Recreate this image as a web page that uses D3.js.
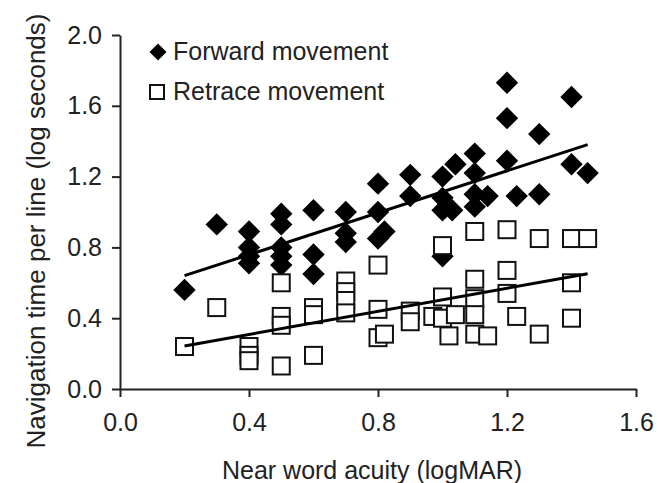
<!DOCTYPE html>
<html>
<head>
<meta charset="utf-8">
<script src="https://cdn.jsdelivr.net/npm/d3@7"></script>
<style>
  body { margin: 0; background: #fff; }
  svg { display: block; font-family: "Liberation Sans", Arial, sans-serif; }
  .axis path, .axis line { stroke: #222; stroke-width: 2; }
  .axis text { fill: #222; font-size: 25px; font-family: "Liberation Sans", Arial, sans-serif; }
</style>
</head>
<body>
<script>
const width = 658;
const height = 483;
const margin = {top: 35, right: 22, bottom: 94, left: 120};

// tick labels
const xTicks = [0, 0.4, 0.8, 1.2, 1.6];
const yTicks = [0, 0.4, 0.8, 1.2, 1.6, 2.0];

// forward movement (filled diamonds)
const forwardAcuity = [0.2, 0.3, 0.4, 0.4, 0.4, 0.4, 0.5, 0.5, 0.5, 0.5, 0.5, 0.6, 0.6, 0.6,
  0.7, 0.7, 0.7, 0.8, 0.8, 0.8, 0.82, 0.9, 0.9, 1.0, 1.0, 1.0, 1.0, 1.03, 1.04,
  1.1, 1.1, 1.1, 1.1, 1.14, 1.2, 1.2, 1.2, 1.23, 1.3, 1.3, 1.4, 1.4, 1.45];
const forwardTime = [0.56, 0.93, 0.89, 0.80, 0.75, 0.71, 0.99, 0.93, 0.80, 0.75, 0.70, 1.01, 0.76, 0.65,
  1.00, 0.88, 0.83, 1.16, 1.00, 0.85, 0.89, 1.21, 1.09, 1.20, 1.08, 1.01, 0.75, 1.01, 1.27,
  1.33, 1.22, 1.10, 1.03, 1.09, 1.73, 1.53, 1.29, 1.09, 1.44, 1.10, 1.65, 1.27, 1.22];

// retrace movement (open squares)
const retraceAcuity = [0.2, 0.3, 0.4, 0.4, 0.4, 0.5, 0.5, 0.5, 0.5, 0.6, 0.6, 0.6,
  0.7, 0.7, 0.7, 0.7, 0.8, 0.8, 0.8, 0.82, 0.9, 0.9, 0.97, 1.0, 1.0, 1.0, 1.02, 1.04,
  1.1, 1.1, 1.1, 1.1, 1.1, 1.14, 1.2, 1.2, 1.2, 1.23, 1.3, 1.3, 1.4, 1.4, 1.4, 1.45];
const retraceTime = [0.24, 0.46, 0.24, 0.19, 0.16, 0.60, 0.41, 0.36, 0.13, 0.46, 0.42, 0.19,
  0.61, 0.55, 0.50, 0.43, 0.70, 0.45, 0.29, 0.31, 0.44, 0.38, 0.41, 0.81, 0.52, 0.40, 0.30, 0.42,
  0.89, 0.62, 0.51, 0.42, 0.31, 0.30, 0.90, 0.67, 0.54, 0.41, 0.85, 0.31, 0.85, 0.60, 0.40, 0.85];

// linear fits [intercept, slope], drawn over the data range
const fitRange = [0.2, 1.45];
const forwardFit = [0.522, 0.592];
const retraceFit = [0.178, 0.326];

const forward = forwardAcuity.map((x, i) => ({x: x, y: forwardTime[i]}));
const retrace = retraceAcuity.map((x, i) => ({x: x, y: retraceTime[i]}));

const svg = d3.select("body")
    .append("svg")
    .attr("width", width)
    .attr("height", height);

const x = d3.scaleLinear().domain([0, 1.6]).range([margin.left, width - margin.right]);
const y = d3.scaleLinear().domain([0, 2.0]).range([height - margin.bottom, margin.top]);

// axes
svg.append("g")
    .attr("class", "axis")
    .attr("transform", `translate(0,${y(0)})`)
    .call(d3.axisBottom(x).tickValues(xTicks).tickFormat(d3.format(".1f")).tickSize(8).tickSizeOuter(0).tickPadding(16));

svg.append("g")
    .attr("class", "axis")
    .attr("transform", `translate(${x(0)},0)`)
    .call(d3.axisLeft(y).tickValues(yTicks).tickFormat(d3.format(".1f")).tickSize(8).tickSizeOuter(0).tickPadding(10));

// axis titles
svg.append("text")
    .attr("x", 372)
    .attr("y", 479)
    .attr("text-anchor", "middle")
    .attr("fill", "#222")
    .style("font-size", "25px")
    .text("Near word acuity (logMAR)");

svg.append("text")
    .attr("transform", "translate(45,231) rotate(-90)")
    .attr("text-anchor", "middle")
    .attr("fill", "#222")
    .style("font-size", "26px")
    .text("Navigation time per line (log seconds)");

// markers
const diamond = d3.symbol().type(d3.symbolSquare).size(250);
const legendDiamond = d3.symbol().type(d3.symbolSquare).size(144);
const sq = 17;

svg.append("g")
    .selectAll("path")
    .data(forward)
    .enter()
    .append("path")
    .attr("d", diamond)
    .attr("transform", d => `translate(${x(d.x)},${y(d.y)}) rotate(45)`)
    .attr("fill", "#000");

svg.append("g")
    .selectAll("rect")
    .data(retrace)
    .enter()
    .append("rect")
    .attr("x", d => x(d.x) - sq / 2)
    .attr("y", d => y(d.y) - sq / 2)
    .attr("width", sq)
    .attr("height", sq)
    .attr("fill", "#fff")
    .attr("stroke", "#111")
    .attr("stroke-width", 2);

// fit lines
const fitLine = d3.line().x(d => x(d[0])).y(d => y(d[1]));
[forwardFit, retraceFit].forEach(f => {
    svg.append("path")
        .attr("d", fitLine(fitRange.map(v => [v, f[0] + f[1] * v])))
        .attr("fill", "none")
        .attr("stroke", "#000")
        .attr("stroke-width", 3);
});

// legend
const legend = svg.append("g");
legend.append("path")
    .attr("d", legendDiamond)
    .attr("transform", "translate(158,52) rotate(45)")
    .attr("fill", "#000");
legend.append("text")
    .attr("x", 173).attr("y", 60)
    .attr("fill", "#222")
    .style("font-size", "25px")
    .text("Forward movement");
legend.append("rect")
    .attr("x", 150).attr("y", 85)
    .attr("width", 14).attr("height", 14)
    .attr("fill", "#fff")
    .attr("stroke", "#111")
    .attr("stroke-width", 2);
legend.append("text")
    .attr("x", 173).attr("y", 100)
    .attr("fill", "#222")
    .style("font-size", "25px")
    .text("Retrace movement");
</script>
</body>
</html>
